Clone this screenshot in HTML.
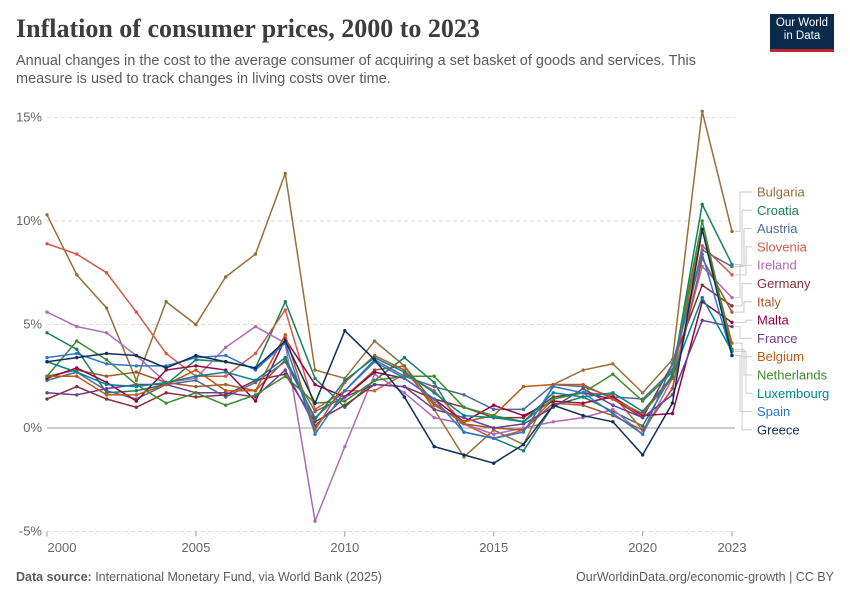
<!DOCTYPE html>
<html><head><meta charset="utf-8"><style>
body{margin:0;background:#fff;font-family:"Liberation Sans",sans-serif}
#wrap{position:relative;width:850px;height:600px;overflow:hidden}
.t{position:absolute}
</style></head><body>
<div id="wrap">
<div class="t" style="left:16px;top:14px;font-family:'Liberation Serif',serif;font-size:26px;font-weight:bold;color:#3d3d3d">Inflation of consumer prices, 2000 to 2023</div>
<div class="t" style="left:16px;top:52px;width:720px;font-size:14.5px;line-height:18px;color:#5b5b5b">Annual changes in the cost to the average consumer of acquiring a set basket of goods and services. This measure is used to track changes in living costs over time.</div>
<div class="t" style="left:770px;top:14px;width:64px;height:38px;background:#0c2a4b;border-bottom:3px solid #c0262c;color:#fff;font-size:11.5px;line-height:13px;text-align:center;padding-top:3px;box-sizing:border-box">Our World<br>in Data</div>
<div class="t" style="left:16px;top:570px;font-size:12.5px;color:#5b5b5b"><b>Data source:</b> International Monetary Fund, via World Bank (2025)</div>
<div class="t" style="right:16px;top:570px;font-size:12.5px;color:#5b5b5b">OurWorldinData.org/economic-growth | CC BY</div>
<svg id="chart" width="850" height="600" style="position:absolute;left:0;top:0"></svg>
</div>
<script>
const years=[2000,2001,2002,2003,2004,2005,2006,2007,2008,2009,2010,2011,2012,2013,2014,2015,2016,2017,2018,2019,2020,2021,2022,2023];
const yTicks=[-5,0,5,10,15];
const xTicks=[2000,2005,2010,2015,2020,2023];
const names=["Bulgaria","Croatia","Austria","Slovenia","Ireland","Germany","Italy","Malta","France","Belgium","Netherlands","Luxembourg","Spain","Greece"];
const colors=["#996d39","#18805c","#4c6a9c","#d25a45","#b069b8","#883039","#a0592a","#970046","#6d3e91","#c05917","#3a8e2a","#00848e","#2e76c8","#0f2d5a"];
const bulgaria=[10.3,7.4,5.8,2.3,6.1,5.0,7.3,8.4,12.3,2.8,2.4,4.2,3.0,0.9,-1.4,-0.1,-0.8,2.1,2.8,3.1,1.7,3.3,15.3,9.5];
const croatia=[4.6,3.8,1.7,1.8,2.1,3.3,3.2,2.9,6.1,2.4,1.0,2.3,3.4,2.2,-0.2,-0.5,-1.1,1.1,1.5,0.8,0.1,2.6,10.8,7.9];
const austria=[2.3,2.7,1.8,1.4,2.1,2.3,1.5,2.2,3.2,0.5,1.8,3.3,2.5,2.0,1.6,0.9,0.9,2.1,2.0,1.5,1.4,2.8,8.6,7.8];
const slovenia=[8.9,8.4,7.5,5.6,3.6,2.5,2.5,3.6,5.7,0.9,1.8,1.8,2.6,1.8,0.2,-0.5,-0.1,1.4,1.7,1.6,-0.1,1.9,8.8,7.4];
const ireland=[5.6,4.9,4.6,3.5,2.2,2.4,3.9,4.9,4.1,-4.5,-0.9,2.6,1.7,0.5,0.2,-0.3,0.0,0.3,0.5,0.9,-0.3,2.4,7.8,6.3];
const germany=[1.4,2.0,1.4,1.0,1.7,1.5,1.6,2.3,2.6,0.3,1.1,2.1,2.0,1.4,1.0,0.5,0.5,1.5,1.7,1.4,0.5,3.1,6.9,5.9];
const italy=[2.5,2.8,2.5,2.7,2.2,2.0,2.1,1.8,3.3,0.8,1.5,2.8,3.0,1.2,0.2,0.0,-0.1,1.2,1.1,0.6,-0.1,1.9,8.2,5.6];
const malta=[2.4,2.9,2.2,1.3,2.8,3.0,2.8,1.3,4.3,2.1,1.5,2.7,2.4,1.4,0.3,1.1,0.6,1.3,1.2,1.5,0.6,0.7,6.1,5.1];
const france=[1.7,1.6,1.9,2.1,2.1,1.7,1.7,1.5,2.8,0.1,1.5,2.1,2.0,0.9,0.5,0.0,0.2,1.0,1.9,1.1,0.5,1.6,5.2,4.9];
const belgium=[2.5,2.5,1.6,1.6,2.1,2.8,1.8,1.8,4.5,-0.1,2.2,3.5,2.8,1.1,0.3,0.6,2.0,2.1,2.1,1.4,0.7,2.4,9.6,4.1];
const netherlands=[2.5,4.2,3.3,2.1,1.2,1.7,1.1,1.6,2.5,1.2,1.3,2.3,2.5,2.5,1.0,0.6,0.3,1.4,1.7,2.6,1.3,2.7,10.0,3.8];
const luxembourg=[3.2,2.7,2.1,2.0,2.2,2.5,2.7,2.3,3.4,0.4,2.3,3.4,2.7,1.7,0.6,0.5,0.3,1.7,1.5,1.7,0.8,2.5,6.3,3.7];
const spain=[3.4,3.6,3.1,3.0,3.0,3.4,3.5,2.8,4.1,-0.3,1.8,3.2,2.4,1.4,-0.2,-0.5,-0.2,2.0,1.7,0.7,-0.3,3.1,8.4,3.5];
const greece=[3.2,3.4,3.6,3.5,2.9,3.5,3.2,2.9,4.2,1.2,4.7,3.3,1.5,-0.9,-1.3,-1.7,-0.8,1.1,0.6,0.3,-1.3,1.2,9.6,3.5];
const series=[bulgaria,croatia,austria,slovenia,ireland,germany,italy,malta,france,belgium,netherlands,luxembourg,spain,greece];
const xs=y=>47+(y-2000)*(732-47)/23;
const ys=v=>428-v*20.7;
const svg=document.getElementById('chart');
const NS="http://www.w3.org/2000/svg";
function mk(tag,attrs,parent){const e=document.createElementNS(NS,tag);for(const k in attrs)e.setAttribute(k,attrs[k]);(parent||svg).appendChild(e);return e;}
yTicks.forEach(t=>{
  const l=mk('line',{x1:47,x2:735,y1:ys(t),y2:ys(t),stroke:t===0?'#999':'#ddd','stroke-dasharray':t===0?'':'4,3'});
  
  
  const tx=mk('text',{x:42,y:ys(t)+4,'text-anchor':'end','font-size':13,fill:'#666'});
  tx.textContent=t+'%';
  
  
});
xTicks.forEach(t=>{
  const l=mk('line',{x1:xs(t),x2:xs(t),y1:ys(-5),y2:ys(-5)+5,stroke:'#999'});
  
  
  const tx=mk('text',{x:xs(t)+(t===2000?15:0),y:552,'text-anchor':'middle','font-size':13,fill:'#666'});
  tx.textContent=t;
  
  
});
series.forEach((s,i)=>{
  const p=mk('polyline',{points:s.map((v,j)=>xs(years[j])+','+ys(v)).join(' '),fill:'none',stroke:colors[i],'stroke-width':1.5});
  
  
  s.forEach((v,j)=>{
    const c=mk('circle',{cx:xs(years[j]),cy:ys(v),r:1.7,fill:colors[i]});
    
    
  });
  const ly=192+i*18.3;
  const ey=ys(s[s.length-1]);
  const ex=740+(i%4)*2;
  const cn=mk('polyline',{points:`735,${ey} ${ex},${ey} ${ex},${ly} 752,${ly}`,fill:'none',stroke:'#ccc','stroke-width':1});
  
  
  const tx=mk('text',{x:757,y:ly+4.5,'font-size':13,fill:colors[i]});
  tx.textContent=names[i];
  
  
});
</script>
</body></html>
